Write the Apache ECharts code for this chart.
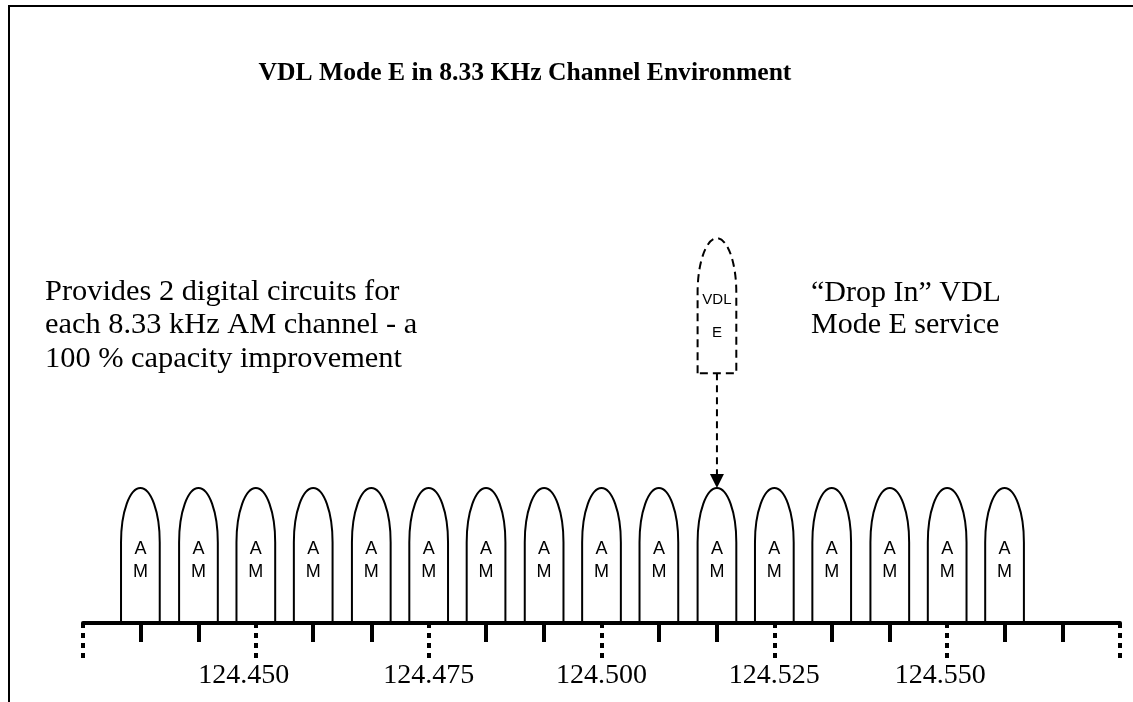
<!DOCTYPE html>
<html>
<head>
<meta charset="utf-8">
<title>VDL Mode E in 8.33 KHz Channel Environment</title>
<script src="https://cdn.jsdelivr.net/npm/echarts@6/dist/echarts.min.js"></script>
<style>
  html, body { margin: 0; padding: 0; background: #fff; }
  #chart { width: 1133px; height: 702px; }
</style>
</head>
<body>
<div id="chart"></div>
<script>
// frequencies in MHz
const freqMin = 124.425;
const freqMax = 124.575;

// 8.33 kHz AM carriers (centre frequencies)
const amChannels = [124.4333, 124.4417, 124.45, 124.4583, 124.4667, 124.475, 124.4833, 124.4917,
  124.5, 124.5083, 124.5167, 124.525, 124.5333, 124.5417, 124.55, 124.5583];
// the "drop in" VDL Mode E carrier
const vdlChannels = [124.5167];

// 8.33 kHz ticks (solid) and 25 kHz ticks (dotted)
const minorTicks = [124.4333, 124.4417, 124.4583, 124.4667, 124.4833, 124.4917,
  124.5083, 124.5167, 124.5333, 124.5417, 124.5583, 124.5667];
const majorTicks = [124.425, 124.45, 124.475, 124.5, 124.525, 124.55, 124.575];
const tickLabels = [124.45, 124.475, 124.5, 124.525, 124.55];

const chart = echarts.init(document.getElementById('chart'));

const SERIF = '"Liberation Serif", "Times New Roman", serif';
const SANS = '"Liberation Sans", Arial, sans-serif';
const HALF_W = 0.0028;   // half width of a carrier lobe, MHz
const VDL_BASE = 1.85;   // where the VDL lobe floats, in lobe heights

// rounded lobe: straight sides, elliptic top
function lobePath(cx, base, top, hw, closed) {
  const ry = Math.min(hw * 2.8, base - top);
  const yc = top + ry;
  const k = 0.5523;
  let d = 'M' + (cx - hw) + ',' + base +
    ' L' + (cx - hw) + ',' + yc +
    ' C' + (cx - hw) + ',' + (yc - k * ry) + ' ' + (cx - k * hw) + ',' + top + ' ' + cx + ',' + top +
    ' C' + (cx + k * hw) + ',' + top + ' ' + (cx + hw) + ',' + (yc - k * ry) + ' ' + (cx + hw) + ',' + yc +
    ' L' + (cx + hw) + ',' + base;
  if (closed) d += ' Z';
  return d;
}

function renderAm(params, api) {
  const f = api.value(0);
  const left = api.coord([f - HALF_W, 0]);
  const right = api.coord([f + HALF_W, 1]);
  const c = api.coord([f, 0.46]);
  const hw = (right[0] - left[0]) / 2;
  const cx = (right[0] + left[0]) / 2;
  return {
    type: 'group',
    children: [{
      type: 'path',
      shape: { pathData: lobePath(cx, left[1], right[1], hw, false) },
      style: { stroke: '#000', lineWidth: 2, fill: null }
    }, {
      type: 'text',
      style: {
        text: 'A\nM', x: cx, y: c[1], fill: '#000',
        font: '18px ' + SANS, lineHeight: 23,
        textAlign: 'center', textVerticalAlign: 'middle'
      }
    }]
  };
}

function renderVdl(params, api) {
  const f = api.value(0);
  const left = api.coord([f - HALF_W, VDL_BASE]);
  const right = api.coord([f + HALF_W, VDL_BASE + 1]);
  const c = api.coord([f, VDL_BASE + 0.42]);
  const tip = api.coord([f, 1]);
  const hw = (right[0] - left[0]) / 2;
  const cx = (right[0] + left[0]) / 2;
  const ah = 14;
  return {
    type: 'group',
    children: [{
      type: 'path',
      shape: { pathData: lobePath(cx, left[1], right[1], hw, true) },
      style: { stroke: '#000', lineWidth: 2, fill: null, lineDash: [8, 5] }
    }, {
      type: 'text',
      style: {
        text: 'VDL\nE', x: cx, y: c[1], fill: '#000',
        font: '15px ' + SANS, lineHeight: 33,
        textAlign: 'center', textVerticalAlign: 'middle'
      }
    }, {
      type: 'line',
      shape: { x1: cx, y1: left[1], x2: cx, y2: tip[1] - ah },
      style: { stroke: '#000', lineWidth: 2, lineDash: [7, 5] }
    }, {
      type: 'polygon',
      shape: { points: [[cx - 7, tip[1] - ah], [cx + 7, tip[1] - ah], [cx, tip[1]]] },
      style: { fill: '#000' }
    }]
  };
}

// the labels in the slide sit a little off their ticks
const labelNudge = { '124.450': 'l', '124.550': 'm' };

const option = {
  backgroundColor: '#fff',
  animation: false,
  grid: { left: 83, right: 13, top: 15.5, bottom: 79 },
  xAxis: [{
    type: 'value', min: freqMin, max: freqMax, position: 'bottom',
    axisLine: { show: true, lineStyle: { color: '#000', width: 4 } },
    axisTick: { show: true, length: 19, customValues: minorTicks, lineStyle: { color: '#000', width: 4 } },
    axisLabel: { show: false },
    splitLine: { show: false }
  }, {
    type: 'value', min: freqMin, max: freqMax, position: 'bottom',
    axisLine: { show: false },
    axisTick: { show: true, length: 37, customValues: majorTicks, lineStyle: { color: '#000', width: 4, type: [5, 5] } },
    axisLabel: {
      show: true, customValues: tickLabels, margin: 39,
      color: '#000', fontSize: 28, fontFamily: SERIF,
      formatter: v => {
        const s = v.toFixed(3);
        return labelNudge[s] ? '{' + labelNudge[s] + '|' + s + '}' : s;
      },
      rich: {
        l: { fontSize: 28, fontFamily: SERIF, color: '#000', padding: [0, 24, 0, 0] },
        m: { fontSize: 28, fontFamily: SERIF, color: '#000', padding: [0, 14, 0, 0] }
      }
    },
    splitLine: { show: false }
  }],
  yAxis: { type: 'value', min: 0, max: 4.5, show: false },
  series: [{
    type: 'custom', name: 'AM', xAxisIndex: 0,
    data: amChannels.map(f => [f]),
    renderItem: renderAm, clip: false, silent: true
  }, {
    type: 'custom', name: 'VDL E', xAxisIndex: 0,
    data: vdlChannels.map(f => [f]),
    renderItem: renderVdl, clip: false, silent: true
  }],
  graphic: [{
    type: 'polyline',
    shape: { points: [[1133, 6], [9, 6], [9, 702]] },
    style: { stroke: '#000', lineWidth: 2, fill: null }
  }, {
    type: 'text', x: 525, y: 73,
    style: {
      text: 'VDL Mode E in 8.33 KHz Channel Environment',
      font: 'bold 25.6px ' + SERIF, fill: '#000',
      textAlign: 'center', textVerticalAlign: 'middle'
    }
  }, {
    type: 'text', x: 45, y: 275,
    style: {
      text: 'Provides 2 digital circuits for\neach 8.33 kHz AM channel - a\n100 % capacity improvement',
      font: '30.4px ' + SERIF, lineHeight: 33.5, fill: '#000',
      textAlign: 'left', textVerticalAlign: 'top'
    }
  }, {
    type: 'text', x: 811, y: 277,
    style: {
      text: '\u201CDrop In\u201D VDL\nMode E service',
      font: '30px ' + SERIF, lineHeight: 32, fill: '#000',
      textAlign: 'left', textVerticalAlign: 'top'
    }
  }]
};

chart.setOption(option);
</script>
</body>
</html>
